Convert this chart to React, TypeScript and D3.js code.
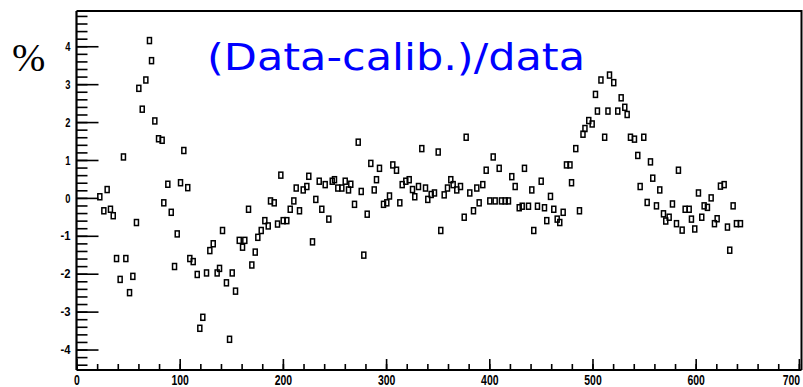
import React, { useEffect, useRef } from "react";
import * as d3 from "d3";

// run index (x) and (Data-calib.)/data in % (y)
const runs = [
  22.6, 26.5, 29.7, 32.9, 35.6, 38.8, 42.3, 45.5, 47.8, 51.4, 54.6, 58.1, 60.4, 63.7, 67.2, 70.7,
  72.7, 75.9, 79.5, 83.0, 84.6, 88.5, 91.8, 95.0, 97.6, 100.8, 104.0, 107.8, 109.8, 113.1, 117.0,
  119.5, 122.4, 126.0, 129.2, 132.5, 136.3, 138.6, 141.5, 145.3, 148.3, 150.9, 154.1, 157.7, 160.9,
  163.1, 166.7, 169.9, 173.2, 175.7, 179.0, 182.5, 185.8, 188.0, 191.6, 194.8, 198.0, 200.3, 203.8,
  207.1, 210.6, 212.9, 216.1, 219.7, 223.2, 225.1, 228.7, 231.9, 235.2, 237.7, 241.0, 244.5, 247.8,
  250.0, 253.2, 257.1, 260.4, 263.6, 265.8, 269.4, 273.0, 275.9, 278.4, 281.7, 285.2, 288.5, 290.7,
  293.6, 297.5, 300.7, 303.3, 306.5, 310.1, 313.3, 315.6, 319.1, 322.4, 325.6, 327.8, 331.4, 334.6,
  338.2, 340.4, 343.7, 346.9, 350.5, 353.0, 356.3, 359.5, 362.7, 365.0, 368.5, 372.1, 375.7, 377.6,
  381.1, 384.7, 387.9, 390.2, 393.7, 397.0, 400.5, 403.8, 405.7, 409.6, 411.8, 415.4, 418.6, 421.8,
  425.1, 429.0, 431.9, 434.1, 438.0, 441.2, 443.1, 446.7, 450.3, 453.5, 455.7, 459.3, 462.5, 465.8,
  468.3, 471.6, 474.8, 478.2, 479.7, 483.8, 487.4, 490.8, 492.7, 496.4, 499.7, 502.9, 504.8, 508.2,
  511.8, 515.0, 516.5, 520.6, 524.5, 527.8, 531.3, 533.6, 536.8, 540.7, 543.9, 546.2, 549.7, 553.0,
  556.2, 558.4, 562.0, 565.2, 568.8, 571.0, 574.3, 577.5, 581.4, 583.3, 586.9, 589.8, 593.7, 595.9,
  599.1, 602.7, 605.9, 608.2, 611.4, 615.0, 618.2, 620.8, 624.0, 627.6, 630.8, 633.0, 636.3, 639.5,
  643.4,
];

const diffPct = [
  0.03, -0.34, 0.22, -0.3, -0.47, -1.6, -2.15, 1.08, -1.6, -2.5, -2.07, -0.65, 2.89, 2.34, 3.11, 4.15,
  3.62, 2.03, 1.56, 1.52, -0.13, 0.36, -0.38, -1.81, -0.95, 0.4, 1.25, 0.27, -1.6, -1.68, -2.02,
  -3.44, -3.15, -1.98, -1.39, -1.21, -1.98, -1.86, -0.86, -2.24, -3.73, -1.98, -2.46, -1.12, -1.3,
  -1.12, -0.3, -1.77, -1.43, -1.04, -0.86, -0.6, -0.74, -0.08, -0.13, -0.69, 0.6, -0.6, -0.6,
  -0.3, -0.08, 0.26, -0.34, 0.21, 0.3, 0.57, -1.16, -0.04, 0.44, -0.3, 0.35, -0.56, 0.44,
  0.48, 0.26, 0.26, 0.44, 0.21, 0.36, -0.17, 1.47, 0.17, -1.51, -0.43, 0.91, 0.21, 0.48,
  0.78, -0.17, -0.13, 0.05, 0.87, 0.73, -0.13, 0.35, 0.44, 0.48, 0.22, 0.03, 0.3, 1.3,
  0.26, -0.04, 0.09, 0.13, 1.21, -0.86, 0.08, 0.26, 0.48, 0.35, 0.21, 0.3, -0.51, 1.6,
  0.13, -0.34, 0.26, -0.13, 0.35, 0.73, -0.08, 1.08, -0.08, 0.78, -0.08, -0.08, -0.08, 0.56,
  0.3, -0.26, -0.22, 0.78, -0.22, 0.21, -0.86, -0.22, 0.44, -0.26, -0.6, 0.04, -0.3, -0.56,
  -0.65, -0.38, 0.87, 0.87, 0.4, 1.3, -0.34, 1.68, 1.83, 2.04, 1.95, 2.73, 2.29, 3.11,
  1.6, 2.29, 3.24, 3.04, 2.29, 2.64, 2.39, 2.2, 1.6, 1.55, 1.12, 0.3, 1.6, -0.12,
  0.95, 0.52, -0.21, 0.21, -0.42, -0.61, -0.51, -0.16, -0.68, 0.73, -0.85, -0.3, -0.3, -0.56,
  -0.82, 0.13, -0.51, -0.21, -0.25, 0.0, -0.68, -0.55, 0.31, 0.35, -0.77, -1.38, -0.21, -0.68,
  -0.68,
];

const xTicks = [0, 100, 200, 300, 400, 500, 600, 700];
const yTicks = [-4, -3, -2, -1, 0, 1, 2, 3, 4];

const App = () => {
  const svgRef = useRef(null);

  useEffect(() => {
    const width = 803;
    const height = 387;
    const root = d3.select(svgRef.current);
    root.selectAll("*").remove();
    root.attr("width", width).attr("height", height);

    const frame = { left: 76.5, right: 801.5, top: 11, bottom: 370 };

    const x = d3.scaleLinear().domain([0, 704]).range([frame.left, 803]);
    const y = d3.scaleLinear().domain([-4.54, 4.93]).range([frame.bottom, frame.top]);

    root.append("rect").attr("width", width).attr("height", height).attr("fill", "#fff");

    // frame (top + right)
    root
      .append("path")
      .attr("d", `M${frame.left},${frame.top}H${frame.right}V${frame.bottom}`)
      .attr("fill", "none")
      .attr("stroke", "#000")
      .attr("stroke-width", 2);

    // condensed bold look: squeeze each label to a narrow width
    const tickFont = "'Liberation Sans', Arial, sans-serif";

    // --- X axis: minor ticks then major ticks with labels ---
    const xMinor = d3.range(0, 701, 20);
    root
      .append("g")
      .attr("transform", `translate(0, ${frame.bottom})`)
      .call(d3.axisBottom(x).tickValues(xMinor).tickSize(-6).tickSizeOuter(0).tickFormat(() => ""))
      .call((g) => g.select(".domain").remove())
      .call((g) => g.selectAll("line").attr("stroke-width", 1.6));

    const xAxis = root
      .append("g")
      .attr("transform", `translate(0, ${frame.bottom})`)
      .call(d3.axisBottom(x).tickValues(xTicks).tickSize(-11).tickSizeOuter(0));
    xAxis.select(".domain").attr("stroke-width", 2.2).attr("d", `M${frame.left},0H${frame.right}`);
    xAxis.selectAll("line").attr("stroke-width", 1.6);
    xAxis
      .selectAll("text")
      .attr("y", 14.5)
      .attr("dy", null)
      .attr("textLength", (d) => String(d).length * 5.8)
      .attr("lengthAdjust", "spacingAndGlyphs")
      .style("font-family", tickFont)
      .style("font-weight", "bold")
      .style("font-size", "15px")
      .attr("fill", "#000");
    // last label pulled inside the picture
    xAxis
      .selectAll("text")
      .filter((d) => d === 700)
      .attr("x", -8);

    // --- Y axis ---
    const yMinor = d3.range(-4.4, 4.81, 0.2);
    root
      .append("g")
      .attr("transform", `translate(${frame.left}, 0)`)
      .call(d3.axisLeft(y).tickValues(yMinor).tickSize(-11).tickSizeOuter(0).tickFormat(() => ""))
      .call((g) => g.select(".domain").remove())
      .call((g) => g.selectAll("line").attr("stroke-width", 1.6));

    const yAxis = root
      .append("g")
      .attr("transform", `translate(${frame.left}, 0)`)
      .call(
        d3
          .axisLeft(y)
          .tickValues(yTicks)
          .tickSize(-22)
          .tickSizeOuter(0)
          .tickPadding(6)
          .tickFormat((d) => String(d))
      );
    yAxis.select(".domain").attr("stroke-width", 2.2).attr("d", `M0,${frame.top}V${frame.bottom}`);
    yAxis.selectAll("line").attr("stroke-width", 1.6);
    yAxis
      .selectAll("text")
      .attr("textLength", (d) => (d < 0 ? 10 : 5.2))
      .attr("lengthAdjust", "spacingAndGlyphs")
      .style("font-family", tickFont)
      .style("font-weight", "bold")
      .style("font-size", "13px")
      .attr("fill", "#000");

    // --- Markers: open squares ---
    const points = runs.map((r, i) => ({ r, v: diffPct[i] }));
    root
      .append("g")
      .selectAll("rect")
      .data(points)
      .join("rect")
      .attr("x", (d) => x(d.r) - 2)
      .attr("y", (d) => y(d.v) - 3)
      .attr("width", 4)
      .attr("height", 6)
      .attr("fill", "none")
      .attr("stroke", "#000")
      .attr("stroke-width", 1.5);

    // --- Labels ---
    root
      .append("text")
      .attr("x", 12)
      .attr("y", 71)
      .style("font-family", "'Liberation Serif', 'Times New Roman', serif")
      .style("font-size", "40px")
      .attr("fill", "#000")
      .text("%");

    root
      .append("text")
      .attr("x", 207)
      .attr("y", 70)
      .attr("textLength", 378)
      .attr("lengthAdjust", "spacingAndGlyphs")
      .style("font-family", "'DejaVu Sans', Verdana, sans-serif")
      .style("font-size", "38px")
      .attr("fill", "#0000ff")
      .text("(Data-calib.)/data");
  }, []);

  return (
    <div style={{ position: "absolute", left: 0, top: 0 }}>
      <svg ref={svgRef} style={{ display: "block" }}></svg>
    </div>
  );
};

export default App;
